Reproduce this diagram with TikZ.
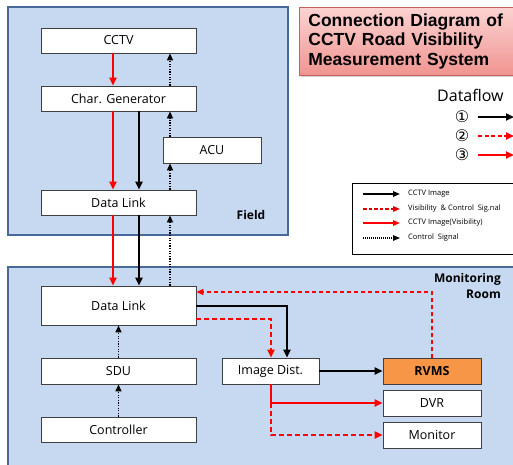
\documentclass[tikz,border=0pt]{standalone}
\usepackage{fontspec}
\setmainfont{Open Sans}
\newfontfamily\titlefont{Liberation Sans}
\newfontfamily\symfont{DejaVu Sans}
\usetikzlibrary{arrows.meta,shadows,calc}
\definecolor{panelfill}{HTML}{C6D9F1}
\definecolor{paneldraw}{HTML}{46699A}
\definecolor{boxdraw}{HTML}{404040}
\definecolor{rvmsfill}{HTML}{F79646}
\definecolor{titletop}{HTML}{FBD3D1}
\definecolor{titlebot}{HTML}{F09490}
\definecolor{titledraw}{HTML}{C8605C}
\begin{document}
\begin{tikzpicture}[x=1pt,y=-1pt,
 font=\fontsize{12.5}{15}\selectfont,
 box/.style={draw=boxdraw, fill=white, line width=0.8pt, inner sep=0pt},
 panel/.style={draw=paneldraw, fill=panelfill, line width=1.8pt},
 tip/.style={-{Triangle[length=8pt,width=7pt]}},
 redline/.style={red, line width=2.4pt, tip},
 blackline/.style={black, line width=2.4pt, tip},
 reddash/.style={red, line width=2.4pt, dash pattern=on 5pt off 3pt, tip},
 reddashthin/.style={red, line width=1.5pt, dash pattern=on 4pt off 3pt, -{Triangle[length=7pt,width=6pt]}},
 dotline/.style={black, line width=1.3pt, dash pattern=on 1.3pt off 1.3pt, -{Triangle[length=7pt,width=6pt]}},
 legtext/.style={anchor=west, font=\fontsize{7.5}{9}\selectfont, inner sep=0pt},
]
\useasboundingbox (0,0) rectangle (513,464);
\clip (0,0) rectangle (513,464);

% panels
\draw[panel] (8,7) rectangle (288,235);
\draw[panel] (8,267) rectangle (530,480);
\node[font=\bfseries\fontsize{12}{14}\selectfont] (fieldlbl) at (251,215) {Field};
\node[font=\bfseries\fontsize{12}{16}\selectfont, anchor=north east, align=right, inner sep=0pt] (monlbl) at (501,273) {Monitoring\\Room};

% field boxes
\node[box, minimum width=155pt, minimum height=25pt] (cctv) at (118.5,40.5) {CCTV};
\node[box, minimum width=155pt, minimum height=25pt] (chargen) at (118.5,98.5) {Char. Generator};
\node[box, minimum width=98pt, minimum height=26pt] (acu) at (212,150) {ACU};
\node[box, minimum width=155pt, minimum height=25pt] (dlf) at (118.5,202.5) {Data Link};

% monitoring boxes
\node[box, minimum width=155pt, minimum height=39pt] (dlm) at (118.5,305.5) {Data Link};
\node[box, minimum width=155pt, minimum height=26pt] (sdu) at (118.5,371) {SDU};
\node[box, minimum width=155pt, minimum height=25pt] (ctrl) at (118.5,429.5) {Controller};
\node[box, minimum width=97pt, minimum height=26pt] (imgd) at (270.5,371) {Image Dist.};
\node[box, fill=rvmsfill, minimum width=98pt, minimum height=26pt, font=\bfseries\fontsize{12.5}{15}\selectfont] (rvms) at (432,371) {RVMS};
\node[box, minimum width=98pt, minimum height=26pt] (dvr) at (432,403) {DVR};
\node[box, minimum width=98pt, minimum height=26pt] (mon) at (432,435) {Monitor};

% helper coordinates
\coordinate (xR) at (113,0);
\coordinate (xK) at (139,0);
\coordinate (xD) at (170,0);
\coordinate (xBk) at (287,0);
\coordinate (xRd) at (271,0);
\coordinate (yV) at (0,292);
\coordinate (yB) at (0,306);
\coordinate (yRd) at (0,319);

% field connectors
\draw[redline] (xR |- cctv.south) -- (xR |- chargen.north);
\draw[redline] (xR |- chargen.south) -- (xR |- dlf.north);
\draw[blackline] (xK |- chargen.south) -- (xK |- dlf.north);
\draw[dotline] (xD |- dlf.north) -- (xD |- acu.south);
\draw[dotline] (xD |- acu.north) -- (xD |- chargen.south);
\draw[dotline] (xD |- chargen.north) -- (xD |- cctv.south);

% field to monitoring
\draw[redline] (xR |- dlf.south) -- (xR |- dlm.north);
\draw[blackline] (xK |- dlf.south) -- (xK |- dlm.north);
\draw[dotline] (xD |- dlm.north) -- (xD |- dlf.south);

% monitoring connectors
\draw[reddashthin] (rvms.north) -- (rvms.north |- yV) -- (dlm.east |- yV);
\draw[blackline] (dlm.east |- yB) -- (xBk |- yB) -- (xBk |- imgd.north);
\draw[reddash] (dlm.east |- yRd) -- (xRd |- yRd) -- (xRd |- imgd.north);
\draw[blackline] (imgd.east) -- (rvms.west);
\draw[red, line width=2.4pt] (xRd |- imgd.south) -- (xRd |- dvr.west);
\draw[redline] (xRd |- dvr.west) -- (dvr.west);
\draw[reddash] (xRd |- dvr.west) -- (xRd |- mon.west) -- (mon.west);
\draw[dotline] (sdu.north) -- (dlm.south);
\draw[dotline] (ctrl.north) -- (sdu.south);

% title
\node[draw=titledraw, line width=0.8pt, top color=titletop, bottom color=titlebot,
  drop shadow={shadow xshift=2pt, shadow yshift=-2pt, opacity=0.35},
  anchor=north west, minimum height=68pt, text width=215pt, inner xsep=9pt,
  align=left, font=\titlefont\bfseries\fontsize{17.5}{19.5}\selectfont] (title) at (299,7)
  {Connection Diagram of\\CCTV Road Visibility\\Measurement System};

% dataflow key
\node[anchor=west, inner sep=0pt, font=\fontsize{16}{18}\selectfont] (dfl) at (437,95) {Dataflow};
\node[font=\symfont\fontsize{16}{18}\selectfont, inner sep=0pt] (n1) at (462,117) {①};
\node[font=\symfont\fontsize{16}{18}\selectfont, inner sep=0pt] (n2) at (462,136) {②};
\node[font=\symfont\fontsize{16}{18}\selectfont, inner sep=0pt] (n3) at (462,155) {③};
\coordinate (d1e) at (514,117);
\coordinate (d2e) at (514,136);
\coordinate (d3e) at (514,155);
\draw[blackline] (478,117) -- (d1e);
\draw[red, line width=1.8pt, dash pattern=on 4pt off 2.5pt, tip] (478,136) -- (d2e);
\draw[redline] (478,155) -- (d3e);

% legend box
\node[draw=black, fill=white, line width=0.8pt, anchor=north west, minimum width=170pt, minimum height=71pt] (legend) at (352,183) {};
\node[legtext] (l1) at (408,194) {CCTV Image};
\node[legtext] (l2) at (408,209) {Visibility \ \& Control \ Sig.nal};
\node[legtext] (l3) at (408,223) {CCTV Image(Visibility)};
\node[legtext] (l4) at (408,238) {Control \ Signal};
\draw[black, line width=1.6pt, -{Triangle[length=7pt,width=5.5pt]}] ($(l1.west)+(-45,0)$) -- ($(l1.west)+(-8,0)$);
\draw[red!85!black, line width=1.3pt, dash pattern=on 3.5pt off 2pt, -{Triangle[length=7pt,width=5.5pt]}] ($(l2.west)+(-45,0)$) -- ($(l2.west)+(-8,0)$);
\draw[red, line width=1.6pt, -{Triangle[length=7pt,width=5.5pt]}] ($(l3.west)+(-45,0)$) -- ($(l3.west)+(-8,0)$);
\draw[black, line width=1.1pt, dash pattern=on 1pt off 1pt, -{Triangle[length=7pt,width=5.5pt]}] ($(l4.west)+(-45,0)$) -- ($(l4.west)+(-8,0)$);
\end{tikzpicture}
\end{document}
